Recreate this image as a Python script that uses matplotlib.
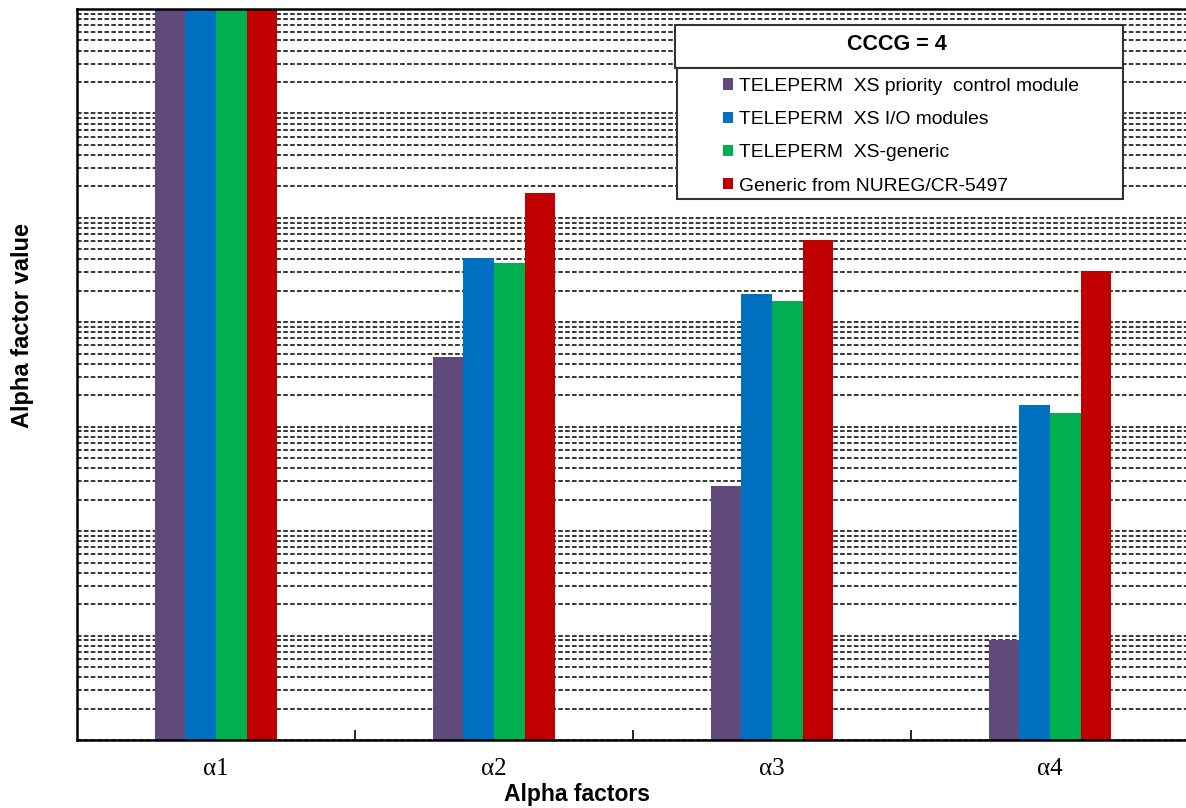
import matplotlib
matplotlib.use("Agg")
import matplotlib.pyplot as plt
import numpy as np
from matplotlib.patches import Rectangle
from matplotlib.ticker import LogLocator, NullFormatter, FixedLocator

categories = ["\u03b11", "\u03b12", "\u03b13", "\u03b14"]
series_names = ["TELEPERM  XS priority  control module",
                "TELEPERM  XS I/O modules",
                "TELEPERM  XS-generic",
                "Generic from NUREG/CR-5497"]
priority_ctrl = [0.9995, 4.7e-4, 2.7e-5, 9.1e-7]
io_modules = [0.994, 4.1e-3, 1.85e-3, 1.6e-4]
xs_generic = [0.995, 3.7e-3, 1.6e-3, 1.36e-4]
nureg_generic = [0.98, 1.72e-2, 6.1e-3, 3.1e-3]
colors = ["#604A7B", "#0070C0", "#00B050", "#C00000"]
legend_title = "CCCG = 4"

W, H = 1186, 808
fig = plt.figure(figsize=(W / 100, H / 100), dpi=100)
ax = fig.add_axes([77 / W, (H - 740) / H, (1189 - 77) / W, (740 - 9) / H])

series = [priority_ctrl, io_modules, xs_generic, nureg_generic]
x = np.arange(len(categories))
bw = 0.11
handles = []
for i, (vals, c) in enumerate(zip(series, colors)):
    h = ax.bar(x + (i - 1.5) * bw, vals, width=bw, color=c, edgecolor="none", zorder=2)
    handles.append(h)

ax.set_yscale("log")
ax.set_ylim(1e-7, 1)
ax.set_xlim(-0.5, 3.5)
ax.yaxis.set_major_locator(LogLocator(base=10, numticks=20))
ax.yaxis.set_minor_locator(LogLocator(base=10, subs=np.arange(2, 10), numticks=100))
ax.yaxis.set_major_formatter(NullFormatter())
ax.yaxis.set_minor_formatter(NullFormatter())
ax.tick_params(axis="y", which="both", length=0)
ax.grid(True, axis="y", which="both", color="black", linestyle=(0, (3, 1.5)), linewidth=1.1, zorder=1)
ax.set_axisbelow(True)

ax.set_xticks(x)
ax.set_xticklabels(categories, fontfamily="Liberation Serif", fontsize=18)
ax.xaxis.set_minor_locator(FixedLocator([0.5, 1.5, 2.5]))
ax.tick_params(axis="x", which="both", direction="in", length=7, width=1.2, pad=13)

ax.spines["right"].set_visible(False)
for s in ["left", "top", "bottom"]:
    ax.spines[s].set_linewidth(1.8)

fig.text(577 / W, 1 - 794 / H, "Alpha factors", ha="center", va="center",
         fontsize=16.5, fontweight="bold", fontfamily="Liberation Sans")
fig.text(23 / W, 1 - 325 / H, "Alpha factor value", ha="center", va="center", rotation=90,
         fontsize=17, fontweight="bold", fontfamily="Liberation Sans")

# legend boxes
ax.add_patch(Rectangle((675 / W, 1 - 68 / H), (1123 - 675) / W, (68 - 25) / H,
                       transform=fig.transFigure, facecolor="white", edgecolor="#333333",
                       linewidth=1.5, zorder=5, clip_on=False))
ax.add_patch(Rectangle((677 / W, 1 - 199 / H), (1123 - 677) / W, (199 - 68) / H,
                       transform=fig.transFigure, facecolor="white", edgecolor="#333333",
                       linewidth=1.5, zorder=5, clip_on=False))
ax.text(897 / W, 1 - 44 / H, legend_title, ha="center", va="center", fontsize=15.5,
        fontweight="bold", fontfamily="Liberation Sans", zorder=6, transform=fig.transFigure)
leg = ax.legend(handles, series_names, loc="upper left",
                bbox_to_anchor=(719 / W, 1 - 74 / H), bbox_transform=fig.transFigure,
                frameon=False, handlelength=0.52, handleheight=0.52, handletextpad=0.3,
                labelspacing=0.84, borderaxespad=0, borderpad=0.2,
                prop={"family": "Liberation Sans", "size": 13.9})
leg.set_zorder(7)

fig.savefig("out.png", dpi=100)
